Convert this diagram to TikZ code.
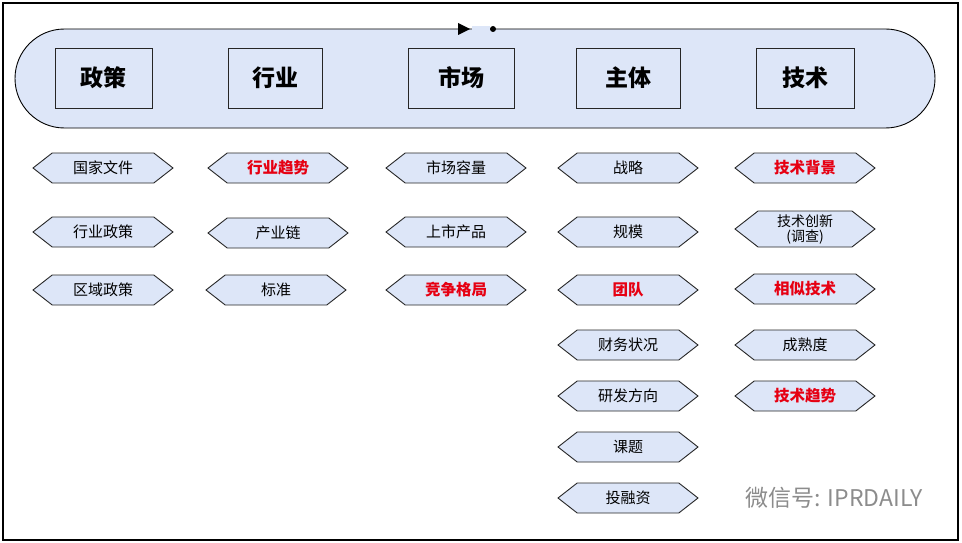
\documentclass[tikz,border=0pt]{standalone}
\usepackage{fontspec}
\setmainfont{Noto Sans CJK SC}
\usetikzlibrary{shapes.symbols,arrows.meta}
\definecolor{fillb}{RGB}{221,230,248}
\definecolor{redt}{RGB}{230,0,18}
\tikzset{
  hex/.style={signal, signal to=west and east, signal pointer angle=76, draw=black!85, line width=0.9pt, fill=fillb, minimum width=140pt, minimum height=30pt, inner sep=1pt, font=\fontsize{15}{16}\selectfont, align=center},
  hot/.style={text=redt, font=\fontsize{15.5}{17}\selectfont\bfseries},
  cat/.style={draw=black!85, line width=0.8pt, fill=fillb, minimum height=60pt, font=\fontsize{23}{26}\selectfont\bfseries},
}
\begin{document}
\begin{tikzpicture}[x=1pt,y=-1pt]
\useasboundingbox (0,0) rectangle (962,543);
\draw[line width=1.5pt] (3,3) rectangle (958,540);
\draw[fill=fillb, line width=0.9pt, rounded corners=49.5pt] (15,29) rectangle (935,128);
\fill[fillb] (472,26) rectangle (490,32);
\coordinate (ta) at (458,29);
\coordinate (tb) at (493,29);
\fill (ta) +(0,-6) -- +(12,0) -- +(0,6) -- cycle;
\fill (tb) circle (3);
\node[cat, minimum width=97pt] (c1) at (103.5,78) {政策};
\node[cat, minimum width=94pt] (c2) at (275,78) {行业};
\node[cat, minimum width=106pt] (c3) at (461,78) {市场};
\node[cat, minimum width=104pt] (c4) at (628,78) {主体};
\node[cat, minimum width=98pt] (c5) at (805,78) {技术};
\node[hex] (a1) at (103,168) {国家文件};
\node[hex] (a2) at (103,232) {行业政策};
\node[hex] (a3) at (103,290) {区域政策};
\node[hex,hot] (b1) at (278,168) {行业趋势};
\node[hex] (b2) at (278,233) {产业链};
\node[hex] (b3) at (276,290) {标准};
\node[hex] (m1) at (456,168) {市场容量};
\node[hex] (m2) at (456,232) {上市产品};
\node[hex,hot] (m3) at (456,290) {竞争格局};
\node[hex] (s1) at (628,168) {战略};
\node[hex] (s2) at (628,232) {规模};
\node[hex,hot] (s3) at (628,290) {团队};
\node[hex] (s4) at (628,345) {财务状况};
\node[hex] (s5) at (628,396) {研发方向};
\node[hex] (s6) at (628,447) {课题};
\node[hex] (s7) at (628,498) {投融资};
\node[hex,hot] (t1) at (805,168) {技术背景};
\node[hex, minimum height=36pt, font=\fontsize{14}{15}\selectfont] (t2) at (805,229) {技术创新\\(调查)};
\node[hex,hot] (t3) at (805,289) {相似技术};
\node[hex] (t4) at (805,345) {成熟度};
\node[hex,hot] (t5) at (805,396) {技术趋势};
\node[text=black!45, font=\fontsize{23}{26}\selectfont, anchor=west] (wm) at (742,498) {微信号: IPRDAILY};
\end{tikzpicture}
\end{document}
